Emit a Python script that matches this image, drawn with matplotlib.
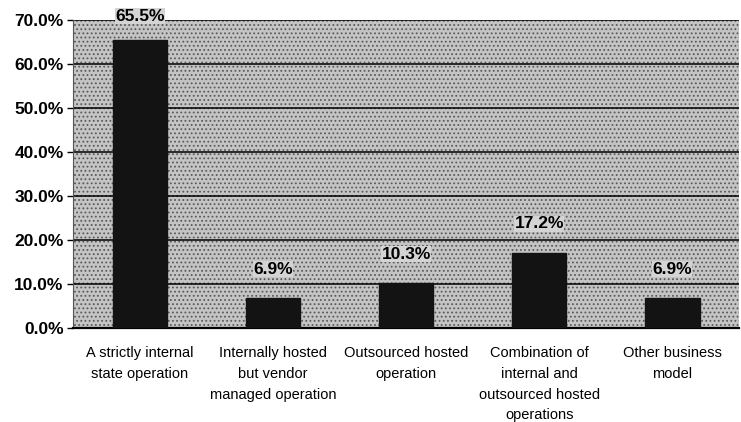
import numpy as np
import matplotlib.pyplot as plt

categories = ["A strictly internal\nstate operation",
              "Internally hosted\nbut vendor\nmanaged operation",
              "Outsourced hosted\noperation",
              "Combination of\ninternal and\noutsourced hosted\noperations",
              "Other business\nmodel"]
values = [65.5, 6.9, 10.3, 17.2, 6.9]
yticks = [0, 10, 20, 30, 40, 50, 60, 70]

plt.rcParams['font.family'] = ['Liberation Sans', 'DejaVu Sans']
plt.rcParams['hatch.linewidth'] = 0.8

fig = plt.figure(figsize=(7.41, 4.22), dpi=100)
ax = fig.add_axes([0.099, 0.222, 0.898, 0.731])

x = np.arange(len(values))
ax.set_facecolor('#c4c4c4')
ax.bar(x, values, width=0.41, color='#131313', edgecolor='#131313', zorder=3)
ax.set_xlim(-0.5, len(values) - 0.5)
ax.set_ylim(0, 70)

# stippled background like the scan
ax.axhspan(0, 70, facecolor='none', edgecolor='#5a5a5a', hatch='....', lw=0, zorder=0)

for v in yticks[1:]:
    ax.axhline(v, color='black', lw=1.1, zorder=2)

for xi, v in zip(x, values):
    ax.text(xi, min(v + 6.5, 70.8), "{:.1f}%".format(v), ha='center', va='center',
            fontsize=12.5, fontweight='bold', zorder=4,
            bbox=dict(facecolor='#d4d4d4', edgecolor='none', pad=0.3))

ax.set_yticks(yticks)
ax.set_yticklabels(["{:.1f}%".format(t) for t in yticks], fontsize=12.5, fontweight='bold')
ax.set_xticks(x)
ax.set_xticklabels(categories, fontsize=10.5, linespacing=1.6, va='top')
ax.tick_params(axis='x', length=0, pad=13)
ax.tick_params(axis='y', length=4, width=1, pad=3)

for s in ['top', 'right']:
    ax.spines[s].set_visible(False)
ax.spines['left'].set_color('#555555')
ax.spines['bottom'].set_linewidth(1.6)

fig.savefig('out.png', dpi=100)
